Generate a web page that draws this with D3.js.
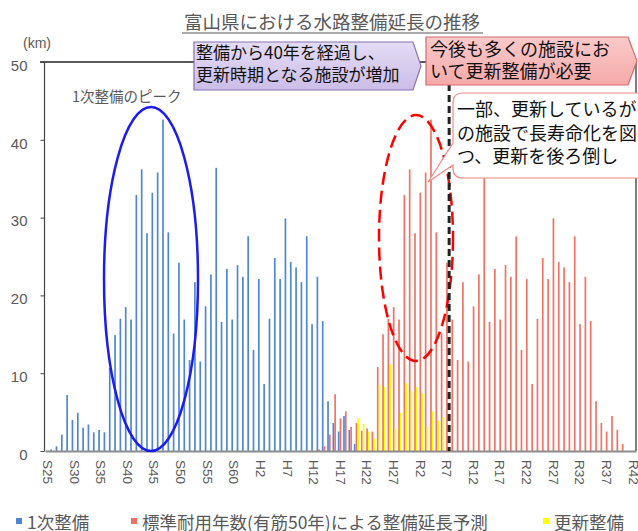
<!doctype html>
<meta charset="utf-8">
<style>
body { margin: 0; background: #fff; }
svg { font-family: "Noto Sans CJK JP", "Noto Sans", sans-serif; }
</style>
<script src="https://d3js.org/d3.v7.min.js"></script>
<body>
<svg id="chart"></svg>
<script>
// 1次整備 (km), 1950..2008
var primaryStart = 1950;
var primary = [0, 0.2, 0.6, 2.1, 7.2, 4.0, 4.9, 3.0, 3.4, 2.4,
  2.7, 2.4, 10.7, 14.9, 17.0, 18.5, 16.9, 32.9, 36.2, 28.0,
  33.2, 35.8, 42.6, 28.1, 15.1, 24.2, 16.9, 11.7, 21.7, 11.5,
  18.6, 22.7, 36.4, 16.6, 23.4, 16.9, 23.9, 22.4, 27.6, 13.0,
  22.1, 8.6, 17.0, 24.8, 22.1, 29.9, 24.3, 23.6, 21.7, 27.6,
  16.3, 22.4, 16.7, 6.4, 3.6, 2.5, 4.5, 2.7, 0.9];

// 標準耐用年数(有筋50年)による整備延長予測, 2000..2058
var forecastStart = 2000;
var forecast = [0, 0.2, 0.6, 2.1, 7.3, 4.2, 5.1, 3.1, 3.6, 2.6,
  2.9, 2.5, 10.8, 15.0, 17.0, 18.5, 16.9, 32.9, 36.2, 28.0,
  33.2, 35.8, 42.6, 28.1, 15.1, 24.2, 16.9, 11.7, 21.7, 11.5,
  18.6, 22.7, 36.4, 16.6, 23.4, 16.9, 23.9, 22.4, 27.6, 13.0,
  22.1, 8.6, 17.0, 24.8, 22.1, 29.9, 24.3, 23.6, 21.7, 27.6,
  16.3, 22.4, 16.7, 6.4, 3.6, 2.5, 4.5, 2.7, 0.9];

// 更新整備, 2008..2024
var renewalStart = 2008;
var renewal = [4.2, 3.5, 2.5, 1.6, 8.5, 8.2, 11.1, 2.9, 4.9, 8.7,
  7.7, 8.2, 7.4, 3.1, 5.1, 3.9, 4.4];

var tickLabels = ["S25", "S30", "S35", "S40", "S45", "S50", "S55", "S60",
  "H2", "H7", "H12", "H17", "H22", "H27", "R2", "R7", "R12", "R17",
  "R22", "R27", "R32", "R37", "R42"];
var firstYear = 1950, lastYear = 2060;

var width = 638, height = 531;
var plotL = 45, plotR = 636, plotT = 62, plotB = 451;
var grey = "#595959";

var svg = d3.select("#chart").attr("width", width).attr("height", height);

var years = d3.range(firstYear, lastYear + 1);
var x = d3.scaleBand().domain(years).range([plotL, plotR]).padding(0);
var slot = d3.scaleBand().domain(["p", "f", "r"]).range([0, x.bandwidth()]);
var y = d3.scaleLinear().domain([0, 50]).range([plotB, plotT]);

function rows(start, vals) {
  return vals.map(function(v, i) { return {year: start + i, v: v}; });
}
var series = [
  {key: "p", color: "#4f86d6", data: rows(primaryStart, primary)},
  {key: "f", color: "#f27264", data: rows(forecastStart, forecast)},
  {key: "r", color: "#ffff00", data: rows(renewalStart, renewal)}
];

// bars
var bw = slot.bandwidth() * 0.95;
series.forEach(function(s) {
  svg.append("g").selectAll("rect")
    .data(s.data.filter(function(d) { return d.v > 0; }))
    .enter().append("rect")
      .attr("x", function(d) { return x(d.year) + slot(s.key); })
      .attr("y", function(d) { return y(d.v); })
      .attr("width", bw)
      .attr("height", function(d) { return plotB - y(d.v); })
      .attr("fill", s.color);
});

// frame
svg.append("line").attr("x1", 40).attr("x2", plotR).attr("y1", plotT).attr("y2", plotT)
  .attr("stroke", "#222").attr("stroke-width", 1.5);
svg.append("line").attr("x1", plotR).attr("x2", plotR).attr("y1", plotT).attr("y2", plotB)
  .attr("stroke", "#555").attr("stroke-width", 1.5);
svg.append("line").attr("x1", plotL - 0.5).attr("x2", plotL - 0.5).attr("y1", plotT).attr("y2", plotB)
  .attr("stroke", "#444").attr("stroke-width", 1.2);

// y axis
var yAxis = svg.append("g").attr("transform", "translate(" + (plotL - 0.5) + ",0)")
  .call(d3.axisLeft(y).tickValues([0, 10, 20, 30, 40, 50]).tickSize(4).tickPadding(13));
yAxis.select(".domain").remove();
yAxis.selectAll("line").attr("stroke", "#444");
yAxis.selectAll("text").attr("fill", grey).style("font-size", "15px")
  .style("font-family", "Liberation Sans, Arial, sans-serif").attr("dy", "0.55em");

svg.append("text").attr("x", 23).attr("y", 48).attr("fill", grey)
  .style("font-size", "14px").style("font-family", "Liberation Sans, Arial, sans-serif")
  .text("(km)");

// x axis
var tickYears = years.filter(function(yr) { return (yr - firstYear) % 5 === 0; });
var xAxis = svg.append("g").attr("transform", "translate(0," + plotB + ")")
  .call(d3.axisBottom(x).tickValues(tickYears).tickSize(0)
    .tickFormat(function(yr) { return tickLabels[(yr - firstYear) / 5]; }));
xAxis.select(".domain").attr("stroke", "#8c8c8c").attr("stroke-width", 2);
xAxis.selectAll("text")
  .attr("transform", "rotate(90)")
  .attr("x", 9).attr("y", 0).attr("dy", "0.35em")
  .style("text-anchor", "start")
  .attr("fill", grey).style("font-size", "13.5px")
  .style("font-family", "Liberation Sans, Arial, sans-serif");

// title
svg.append("text").attr("x", 332).attr("y", 29).attr("text-anchor", "middle")
  .attr("fill", grey).style("font-size", "18.5px")
  .text("富山県における水路整備延長の推移");
svg.append("line").attr("x1", 182).attr("x2", 483).attr("y1", 33).attr("y2", 33)
  .attr("stroke", grey).attr("stroke-width", 1);

// peak label + ellipse
svg.append("text").attr("x", 72).attr("y", 102).attr("fill", grey)
  .style("font-size", "14.5px").text("1次整備のピーク");
svg.append("ellipse").attr("cx", 151).attr("cy", 279).attr("rx", 47).attr("ry", 172)
  .attr("fill", "none").attr("stroke", "#1c1cf0").attr("stroke-width", 2.5);

// red dashed ellipse
svg.append("ellipse").attr("cx", 416).attr("cy", 238).attr("rx", 37).attr("ry", 123)
  .attr("fill", "none").attr("stroke", "#ff0000").attr("stroke-width", 2.5)
  .attr("stroke-dasharray", "13,6");

// dashed divider (start of R7)
var divX = x(2026) - 0.5;
svg.append("line").attr("x1", divX).attr("x2", divX).attr("y1", plotT).attr("y2", plotB)
  .attr("stroke", "#222").attr("stroke-width", 3).attr("stroke-dasharray", "7,4");

// callout
svg.append("path")
  .attr("d", "M463,93 L650,93 L650,178 L463,178 Q453,178 453,168 L453,165 L428,182 L453,143 L453,103 Q453,93 463,93 Z")
  .attr("fill", "#fff").attr("stroke", "#f08a8a").attr("stroke-width", 1.2);
var callout = ["一部、更新しているが多く", "の施設で長寿命化を図りつ", "つ、更新を後ろ倒し"];
svg.append("g").selectAll("text").data(callout).enter().append("text")
  .attr("x", 457).attr("y", function(d, i) { return 116 + i * 23.5; })
  .attr("fill", "#111").style("font-size", "18px").text(function(d) { return d; });

// arrow boxes
var defs = svg.append("defs");
var gp = defs.append("linearGradient").attr("id", "gPurple").attr("x1", 0).attr("x2", 0).attr("y1", 0).attr("y2", 1);
gp.append("stop").attr("offset", 0).attr("stop-color", "#e4dcf4");
gp.append("stop").attr("offset", 1).attr("stop-color", "#cbbde8");
var gr = defs.append("linearGradient").attr("id", "gPink").attr("x1", 0).attr("x2", 0).attr("y1", 0).attr("y2", 1);
gr.append("stop").attr("offset", 0).attr("stop-color", "#fbcaca");
gr.append("stop").attr("offset", 1).attr("stop-color", "#f6a9a9");

svg.append("path").attr("d", "M194,42 L413,42 L421,66 L413,90 L194,90 Z")
  .attr("fill", "url(#gPurple)").attr("stroke", "#8a72b4").attr("stroke-width", 1.2);
svg.append("g").selectAll("text").data(["整備から40年を経過し、", "更新時期となる施設が増加"])
  .enter().append("text").attr("x", 196).attr("y", function(d, i) { return 59 + i * 21.5; })
  .attr("fill", "#111").style("font-size", "17px").text(function(d) { return d; });

svg.append("path").attr("d", "M426,37 L628,37 L637,61 L628,85 L426,85 Z")
  .attr("fill", "url(#gPink)").attr("stroke", "#d46a6a").attr("stroke-width", 1.2);
svg.append("g").selectAll("text").data(["今後も多くの施設にお", "いて更新整備が必要"])
  .enter().append("text").attr("x", 430).attr("y", function(d, i) { return 56 + i * 21.5; })
  .attr("fill", "#111").style("font-size", "18px").text(function(d) { return d; });

// legend
var legend = [
  {label: "1次整備", color: "#4f86d6", x: 16},
  {label: "標準耐用年数(有筋50年)による整備延長予測", color: "#f27264", x: 131},
  {label: "更新整備", color: "#ffff00", x: 543}
];
var lg = svg.append("g").selectAll("g").data(legend).enter().append("g")
  .attr("transform", function(d) { return "translate(" + d.x + ",0)"; });
lg.append("rect").attr("x", 0).attr("y", 518).attr("width", 6).attr("height", 6)
  .attr("fill", function(d) { return d.color; });
lg.append("text").attr("x", 11).attr("y", 529).attr("fill", grey)
  .style("font-size", "17.5px").text(function(d) { return d.label; });
</script>
</body>
